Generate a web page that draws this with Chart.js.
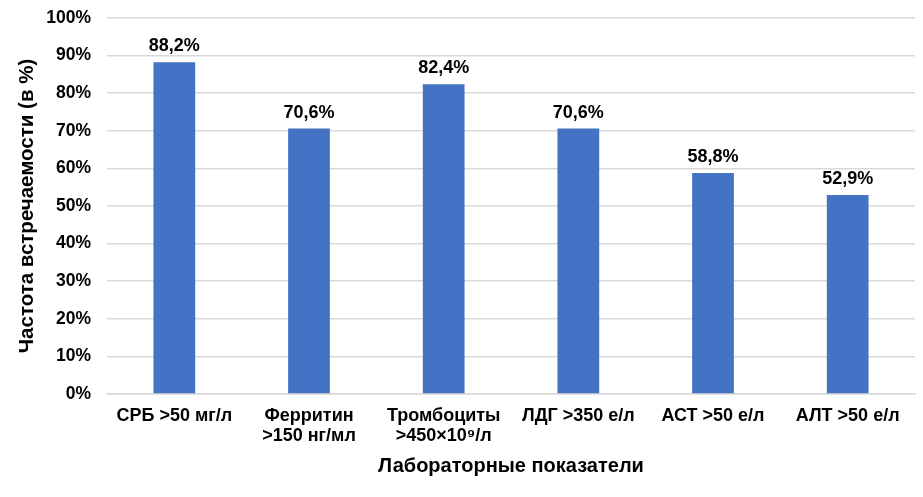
<!DOCTYPE html>
<html>
<head>
<meta charset="utf-8">
<script src="https://cdn.jsdelivr.net/npm/chart.js@4"></script>
<style>
  html, body { margin: 0; padding: 0; background: #fff; }
  #wrap { width: 923px; height: 497px; position: relative; }
</style>
</head>
<body>
<div id="wrap"><canvas id="c" width="923" height="497"></canvas></div>
<script>
const categories = [
  "СРБ >50 мг/л",
  ["Ферритин", ">150 нг/мл"],
  ["Тромбоциты", ">450×10⁹/л"],
  "ЛДГ >350 е/л",
  "АСТ >50 е/л",
  "АЛТ >50 е/л"
];
const values = [88.2, 70.6, 82.4, 70.6, 58.8, 52.9];
const valueLabels = ["88,2%", "70,6%", "82,4%", "70,6%", "58,8%", "52,9%"];
const yTicks = [0, 10, 20, 30, 40, 50, 60, 70, 80, 90, 100];

const FONT = "'Liberation Sans', Arial, sans-serif";

const dataLabelPlugin = {
  id: 'dataLabels',
  afterDatasetsDraw(chart) {
    const ctx = chart.ctx;
    const meta = chart.getDatasetMeta(0);
    ctx.save();
    ctx.font = "bold 18px " + FONT;
    ctx.fillStyle = "#000";
    ctx.textAlign = "center";
    ctx.textBaseline = "alphabetic";
    meta.data.forEach((bar, i) => {
      ctx.fillText(valueLabels[i], bar.x, bar.y - 11);
    });
    ctx.restore();
  }
};

new Chart(document.getElementById('c'), {
  type: 'bar',
  data: {
    labels: categories,
    datasets: [{
      data: values,
      backgroundColor: '#4472C4',
      borderWidth: 0,
      barPercentage: 0.31,
      categoryPercentage: 1
    }]
  },
  options: {
    responsive: false,
    animation: false,
    devicePixelRatio: 1,
    layout: { padding: { top: 18, right: 8, left: 0, bottom: 0 } },
    plugins: { legend: { display: false }, tooltip: { enabled: false } },
    scales: {
      x: {
        grid: { display: false, drawTicks: false },
        border: { display: true, color: '#d9d9d9', width: 1.5 },
        ticks: {
          color: '#000',
          font: { family: FONT, size: 18, weight: 'bold', lineHeight: 1.11 },
          padding: 12.5,
          maxRotation: 0,
          autoSkip: false
        },
        title: {
          display: true,
          text: 'Лабораторные показатели',
          color: '#000',
          font: { family: FONT, size: 20, weight: 'bold', lineHeight: 1.2 },
          padding: { top: 0, bottom: 18.5 }
        },
        afterFit(scale) { scale.height = 103; scale.paddingLeft = 0; scale.paddingRight = 0; }
      },
      y: {
        min: 0,
        max: 100,
        afterBuildTicks(scale) { scale.ticks = yTicks.map(v => ({ value: v })); },
        grid: { color: '#d9d9d9', lineWidth: 1.5, drawTicks: false },
        border: { display: false },
        ticks: {
          color: '#000',
          font: { family: FONT, size: 17.5, weight: 'bold' },
          padding: 16,
          callback: v => v + '%'
        },
        title: {
          display: true,
          text: 'Частота встречаемости (в %)',
          color: '#000',
          font: { family: FONT, size: 20.5, weight: 'bold', lineHeight: 1.2 },
          padding: { top: 15, bottom: 0 }
        },
        afterFit(scale) { scale.width = 107; scale.paddingTop = 0; scale.paddingBottom = 0; }
      }
    }
  },
  plugins: [dataLabelPlugin]
});
</script>
</body>
</html>
